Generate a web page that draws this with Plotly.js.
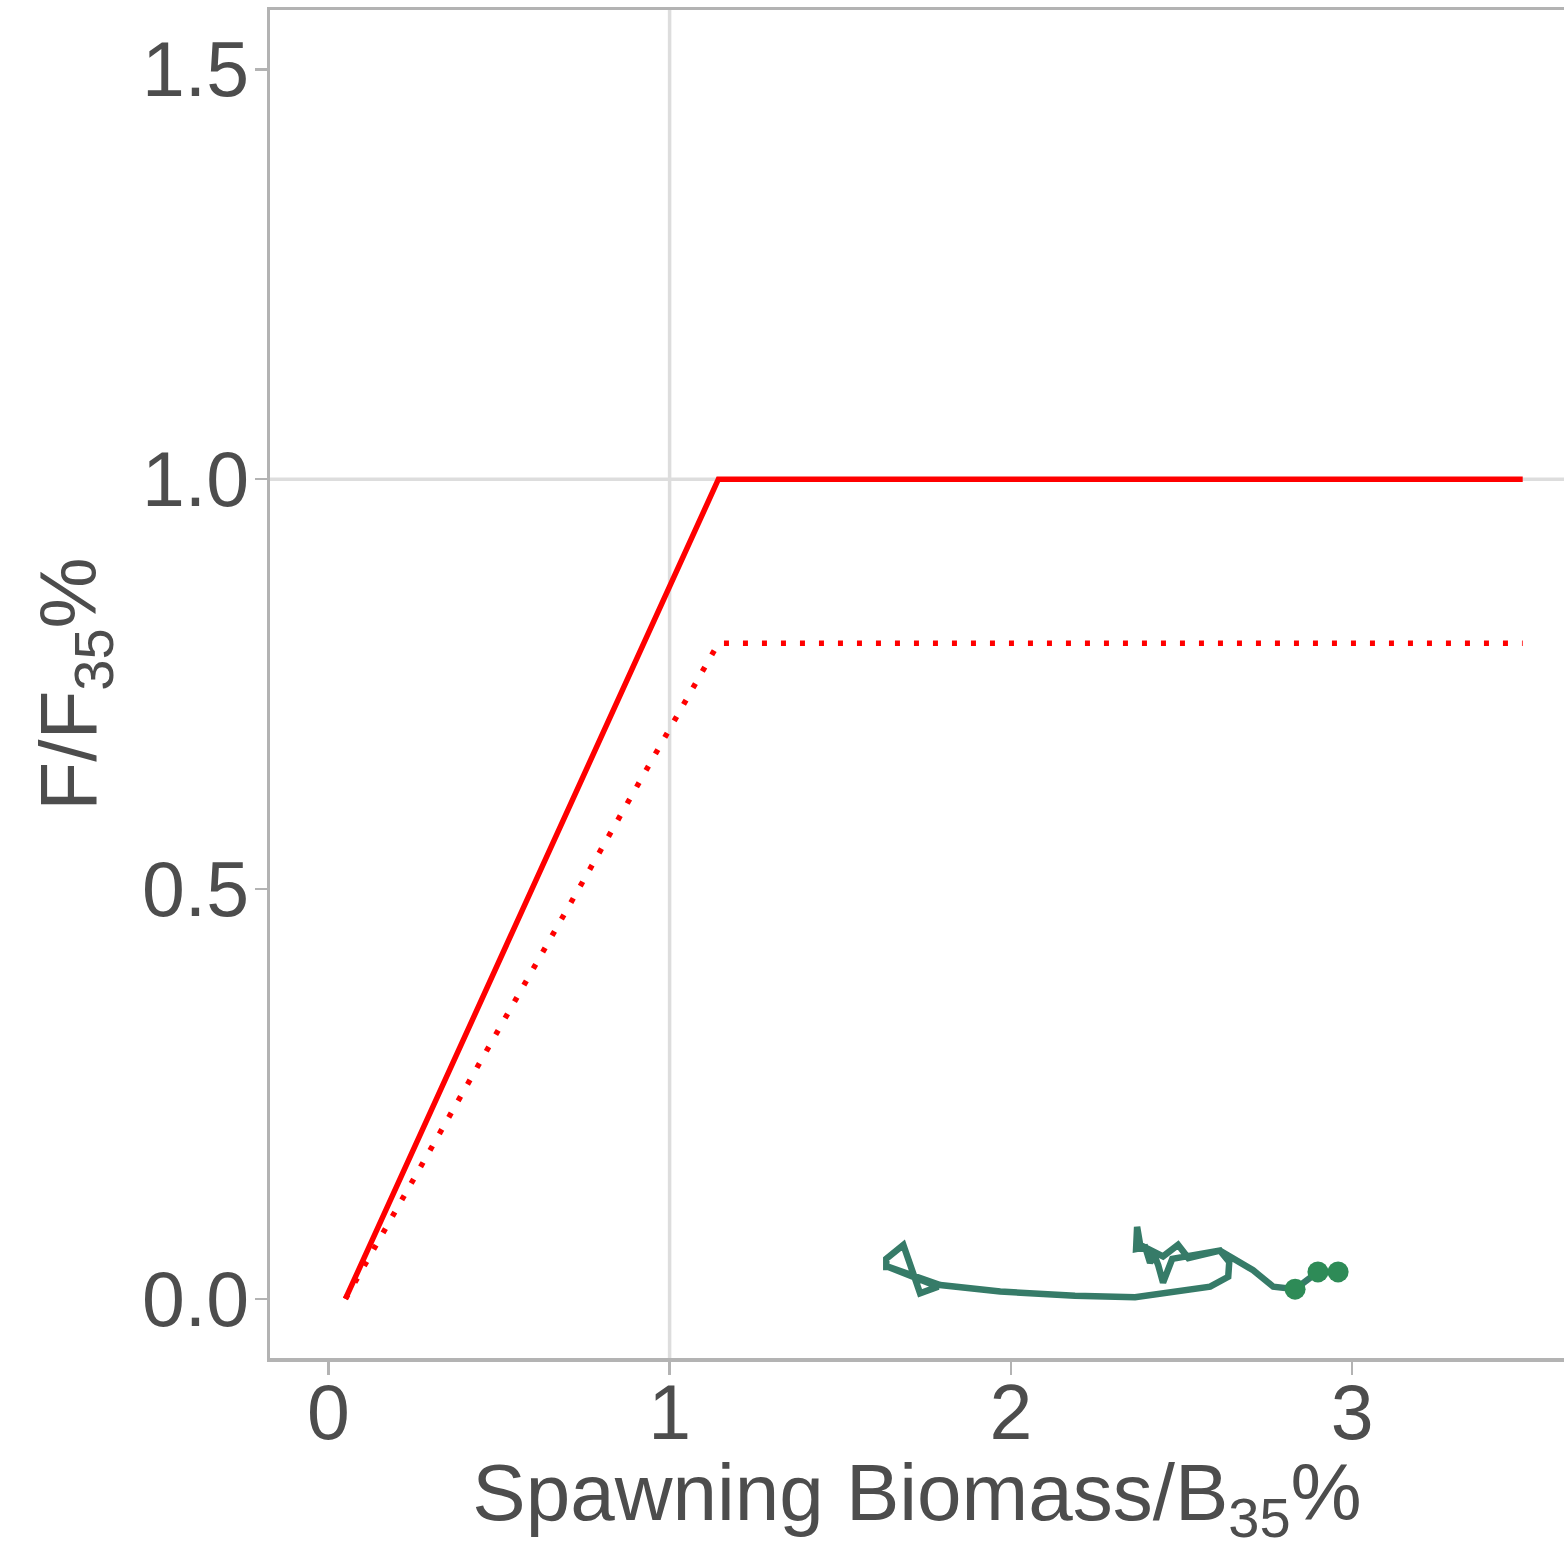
<!DOCTYPE html>
<html>
<head>
<meta charset="utf-8">
<script src="https://cdn.plot.ly/plotly-3.0.1.min.js"></script>
<style>html,body{margin:0;padding:0;background:#fff;}#chart{width:1564px;height:1549px;}</style>
</head>
<body>
<div id="chart"></div>
<script>
// Harvest control rule (OFL / maxABC)
const hcrX = [0.05, 1.143, 3.5];
const oflY = [0, 1.0, 1.0];
const abcY = [0, 0.8, 0.8];

// Stock trajectory: spawning biomass / B35% and F / F35%
const trajB = [1.635, 1.635, 1.685, 1.734, 1.787, 1.635, 1.793, 1.969, 2.188, 2.364,
               2.584, 2.637, 2.640, 2.613, 2.473, 2.446, 2.432, 2.420, 2.408, 2.394,
               2.367, 2.370, 2.379, 2.446, 2.490, 2.520, 2.613, 2.710, 2.769, 2.833,
               2.900, 2.959];
const trajF = [0.035, 0.049, 0.066, 0.007, 0.015, 0.040, 0.017, 0.009, 0.004, 0.002,
               0.015, 0.027, 0.045, 0.059, 0.049, 0.020, 0.041, 0.054, 0.044, 0.063,
               0.061, 0.088, 0.066, 0.052, 0.066, 0.050, 0.059, 0.035, 0.015, 0.012,
               0.033, 0.033];
// Last years highlighted with points
const recentB = [2.833, 2.900, 2.959];
const recentF = [0.012, 0.033, 0.033];

// Reference lines
const refX = [1];
const refY = [1];

const xTicks = [0, 1, 2, 3];
const xTickLabels = ['0', '1', '2', '3'];
const yTicks = [0, 0.5, 1.0, 1.5];
const yTickLabels = ['0.0', '0.5', '1.0', '1.5'];

const traces = [
  {x: hcrX, y: oflY, mode: 'lines', line: {color: '#ff0000', width: 5.5}, hoverinfo: 'skip'},
  {x: hcrX, y: abcY, mode: 'lines', line: {color: '#ff0000', width: 5.5, dash: '5px,14px'}, hoverinfo: 'skip'},
  {x: trajB, y: trajF, mode: 'lines', line: {color: '#367b68', width: 6.5}, hoverinfo: 'skip'},
  {x: recentB, y: recentF, mode: 'markers', marker: {color: '#2e8b57', size: 21}, hoverinfo: 'skip'}
];

const shapes = [];
refX.forEach(v => shapes.push({type: 'line', xref: 'x', yref: 'paper', x0: v, x1: v, y0: 0, y1: 1,
  line: {color: '#dddddd', width: 3.5}, layer: 'below'}));
refY.forEach(v => shapes.push({type: 'line', xref: 'paper', yref: 'y', x0: 0, x1: 1, y0: v, y1: v,
  line: {color: '#dddddd', width: 3.5}, layer: 'below'}));

const tickFont = {family: 'Liberation Sans, Arial, sans-serif', size: 77, color: '#4d4d4d'};
const titleFont = {family: 'Liberation Sans, Arial, sans-serif', size: 80, color: '#4d4d4d'};

const layout = {
  width: 1564, height: 1549,
  margin: {l: 270, r: 0, t: 10, b: 191},
  paper_bgcolor: '#ffffff', plot_bgcolor: '#ffffff',
  showlegend: false,
  shapes: shapes,
  xaxis: {
    range: [-0.171, 3.621], showgrid: false, zeroline: false,
    tickmode: 'array', tickvals: xTicks, ticktext: xTickLabels,
    ticks: 'outside', ticklen: 13, tickwidth: 2.5, tickcolor: '#b3b3b3',
    showline: true, linecolor: '#b3b3b3', linewidth: 3.5, mirror: true,
    tickfont: tickFont, ticklabelstandoff: -28,
    title: {text: 'Spawning Biomass/B<sub>35</sub>%', font: titleFont, standoff: 10}
  },
  yaxis: {
    range: [-0.072, 1.5724], showgrid: false, zeroline: false,
    tickmode: 'array', tickvals: yTicks, ticktext: yTickLabels,
    ticks: 'outside', ticklen: 12, tickwidth: 2.5, tickcolor: '#b3b3b3',
    showline: true, linecolor: '#b3b3b3', linewidth: 3.5, mirror: false,
    tickfont: tickFont, ticklabelstandoff: -10,
    title: {text: 'F/F<sub>35</sub>%', font: titleFont, standoff: 20}
  }
};

Plotly.newPlot('chart', traces, layout, {displayModeBar: false, staticPlot: true});
</script>
</body>
</html>
